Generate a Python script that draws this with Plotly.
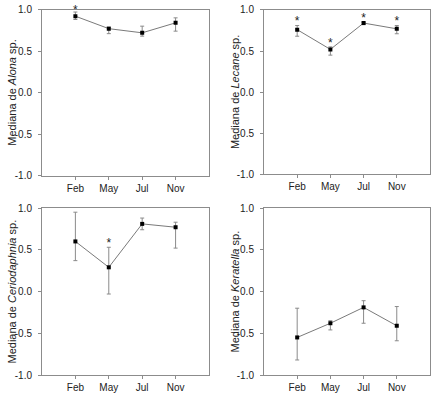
import plotly.graph_objects as go

months = ["Feb", "May", "Jul", "Nov"]

alona_med = [0.92, 0.77, 0.72, 0.84]
alona_hi = [0.97, 0.79, 0.80, 0.90]
alona_lo = [0.88, 0.71, 0.68, 0.74]
alona_star = [0.98, None, None, None]

lecane_med = [0.76, 0.52, 0.84, 0.77]
lecane_hi = [0.81, 0.55, 0.85, 0.81]
lecane_lo = [0.68, 0.45, 0.82, 0.71]
lecane_star = [0.85, 0.59, 0.89, 0.85]

cerio_med = [0.60, 0.29, 0.81, 0.77]
cerio_hi = [0.95, 0.53, 0.88, 0.83]
cerio_lo = [0.37, -0.03, 0.74, 0.52]
cerio_star = [None, 0.57, None, None]

kera_med = [-0.55, -0.38, -0.19, -0.41]
kera_hi = [-0.20, -0.35, -0.11, -0.18]
kera_lo = [-0.82, -0.46, -0.38, -0.59]
kera_star = [None, None, None, None]

panels = [
    ("Alona", alona_med, alona_hi, alona_lo, alona_star),
    ("Lecane", lecane_med, lecane_hi, lecane_lo, lecane_star),
    ("Ceriodaphnia", cerio_med, cerio_hi, cerio_lo, cerio_star),
    ("Keratella", kera_med, kera_hi, kera_lo, kera_star),
]

xdoms = [[0.0952, 0.4739], [0.5986, 0.975], [0.0952, 0.4739], [0.5986, 0.975]]
ydoms = [[0.557, 0.976], [0.561, 0.975], [0.0554, 0.476], [0.0554, 0.476]]
title_x = [12 / 441, 235 / 441, 12 / 441, 235 / 441]

FONT = "Liberation Sans, Arial, sans-serif"
AX = "#8c8c8c"
fig = go.Figure()
layout = dict(
    width=441, height=397, margin=dict(l=0, r=0, t=0, b=0, autoexpand=False),
    paper_bgcolor="white", plot_bgcolor="white", showlegend=False,
    font=dict(family=FONT, color="#222", size=10),
)
annotations = []

for i, (name, med, hi, lo, star) in enumerate(panels):
    n = "" if i == 0 else str(i + 1)
    xa, ya = "x" + n, "y" + n
    plus = [h - m for h, m in zip(hi, med)]
    minus = [m - l for m, l in zip(med, lo)]
    fig.add_trace(go.Scatter(
        x=[0, 1, 2, 3], y=med, xaxis=xa, yaxis=ya, mode="lines+markers",
        line=dict(color="#7a7a7a", width=1),
        marker=dict(symbol="square", size=4, color="black"),
        error_y=dict(type="data", array=plus, arrayminus=minus, color="#8a8a8a",
                     thickness=1, width=2),
    ))
    sx = [k for k, s in enumerate(star) if s is not None]
    sy = [s for s in star if s is not None]
    if sx:
        fig.add_trace(go.Scatter(
            x=sx, y=sy, xaxis=xa, yaxis=ya, mode="text", text=["*"] * len(sx),
            textposition="middle center", cliponaxis=False,
            textfont=dict(size=12, color="#222", family=FONT),
        ))
    axis_common = dict(showline=True, linecolor=AX, linewidth=1, mirror=True,
                       showgrid=False, zeroline=False, ticks="outside", ticklen=3,
                       tickcolor=AX, automargin=False,
                       tickfont=dict(size=10, family=FONT, color="#222"))
    layout["xaxis" + n] = dict(domain=xdoms[i], range=[-1, 4], tickmode="array",
                               tickvals=[0, 1, 2, 3], ticktext=months,
                               anchor=ya, **axis_common)
    layout["yaxis" + n] = dict(domain=ydoms[i], range=[-1, 1], tickmode="array",
                               tickvals=[-1, -0.5, 0, 0.5, 1],
                               ticktext=["-1.0", "-0.5", "0.0", "0.5", "1.0"],
                               anchor=xa, ticklabelstandoff=4,
                               **axis_common)
    annotations.append(dict(
        text="Mediana de <i>%s</i> sp." % name, textangle=-90, showarrow=False,
        xref="paper", yref="paper", x=title_x[i], y=sum(ydoms[i]) / 2,
        xanchor="center", yanchor="middle",
        font=dict(size=11, family=FONT, color="#222"),
    ))

layout["annotations"] = annotations
fig.update_layout(**layout)
fig.write_html("out.html", config={"displayModeBar": False},
               post_script="document.body.style.margin='0';document.body.style.overflow='hidden';")
